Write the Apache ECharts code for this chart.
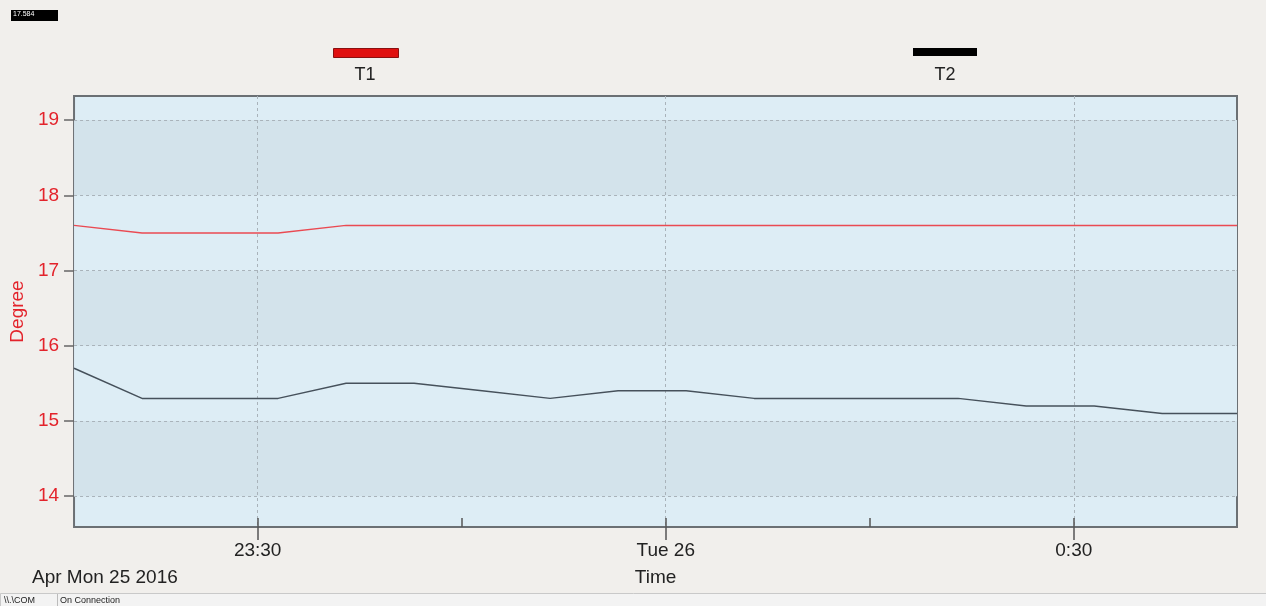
<!DOCTYPE html>
<html>
<head>
<meta charset="utf-8">
<script src="https://cdn.jsdelivr.net/npm/echarts@6/dist/echarts.min.js"></script>
<style>
  html, body { margin: 0; padding: 0; background: #f1efec; }
  #chart { width: 1266px; height: 606px; }
</style>
</head>
<body>
<div id="chart"></div>
<script>
// Logged readings, one every five minutes (last entry is the reading at the window's right edge)
const sampleTimes = ['23:16:30', '23:21:30', '23:26:30', '23:31:30', '23:36:30', '23:41:30',
  '23:46:30', '23:51:30', '23:56:30', '0:01:30', '0:06:30', '0:11:30', '0:16:30',
  '0:21:30', '0:26:30', '0:31:30', '0:36:30', '0:41:30', '0:42:00'];
const t1Values = [17.6, 17.5, 17.5, 17.5, 17.6, 17.6, 17.6, 17.6, 17.6, 17.6, 17.6, 17.6, 17.6,
  17.6, 17.6, 17.6, 17.6, 17.6, 17.6];
const t2Values = [15.7, 15.3, 15.3, 15.3, 15.5, 15.5, 15.4, 15.3, 15.4, 15.4, 15.3, 15.3, 15.3,
  15.3, 15.2, 15.2, 15.1, 15.1, 15.1];

// Visible time window
const windowStart = '23:16:30';
const windowEnd = '0:42:00';

// Time axis ticks
const majorTickTimes = ['23:30', '0:00', '0:30'];
const majorTickLabels = ['23:30', 'Tue 26', '0:30'];
const minorTickTimes = ['23:30', '23:45', '0:00', '0:15', '0:30'];

// Value axis ticks
const degreeTicks = [14, 15, 16, 17, 18, 19];
const degreeMin = 13.59;
const degreeMax = 19.32;

const seriesNames = ['T1', 'T2'];
const dateCaption = 'Apr Mon 25 2016';
const currentReading = '17.584';

// Clock time -> timestamp; times after midnight fall on Apr 26
function toTs(s) {
  const p = s.split(':').map(Number);
  const day = p[0] < 12 ? 26 : 25;
  return Date.UTC(2016, 3, day, p[0], p[1], p[2] || 0);
}

const t1Data = sampleTimes.map((t, i) => [toTs(t), t1Values[i]]);
const t2Data = sampleTimes.map((t, i) => [toTs(t), t2Values[i]]);
const majorTs = majorTickTimes.map(toTs);
const minorTs = minorTickTimes.map(toTs);

const FONT = '"Liberation Sans", Arial, sans-serif';
const RED = '#e3232b';
const LIGHT_BAND = '#ddedf5';
const DARK_BAND = '#d3e3eb';

const chart = echarts.init(document.getElementById('chart'), null, { renderer: 'canvas' });

chart.setOption({
  backgroundColor: '#f1efec',
  animation: false,
  grid: {
    left: 74, right: 29, top: 96, bottom: 79,
    show: true,
    backgroundColor: LIGHT_BAND,
    borderColor: '#6b7074',
    borderWidth: 2
  },
  legend: [
    {
      left: 333, top: 48, padding: 0, data: [seriesNames[0]],
      icon: 'rect', itemWidth: 65, itemHeight: 9,
      formatter: () => '', selectedMode: false,
      itemStyle: { borderColor: '#8a1010', borderWidth: 1 }
    },
    {
      left: 913, top: 48, padding: 0, data: [seriesNames[1]],
      icon: 'rect', itemWidth: 64, itemHeight: 8,
      formatter: () => '', selectedMode: false
    }
  ],
  xAxis: [
    {
      type: 'value',
      min: toTs(windowStart),
      max: toTs(windowEnd),
      name: 'Time',
      nameLocation: 'middle',
      nameGap: 41,
      nameTextStyle: { fontFamily: FONT, fontSize: 19, color: '#222' },
      axisLine: { show: false },
      axisTick: {
        show: true, inside: false, length: 13,
        customValues: majorTs,
        lineStyle: { color: '#555', width: 1.5 }
      },
      axisLabel: {
        customValues: majorTs,
        margin: 14,
        fontFamily: FONT, fontSize: 19, color: '#222',
        formatter: v => {
          const i = majorTs.indexOf(v);
          return i >= 0 ? majorTickLabels[i] : '';
        }
      },
      splitLine: {
        show: true,
        lineStyle: { color: '#a9b3ba', type: [3, 3], width: 1 }
      }
    },
    {
      type: 'value',
      position: 'bottom',
      min: toTs(windowStart),
      max: toTs(windowEnd),
      axisLine: { show: false },
      axisTick: {
        show: true, inside: true, length: 9,
        customValues: minorTs,
        lineStyle: { color: '#555', width: 1.5 }
      },
      axisLabel: { show: false },
      splitLine: { show: false }
    }
  ],
  yAxis: {
    type: 'value',
    min: degreeMin,
    max: degreeMax,
    name: 'Degree',
    nameLocation: 'middle',
    nameRotate: 90,
    nameGap: 47,
    nameTextStyle: { fontFamily: FONT, fontSize: 19, color: RED },
    axisLine: { show: false },
    axisTick: {
      show: true, inside: false, length: 10,
      customValues: degreeTicks,
      lineStyle: { color: '#666', width: 1.5 }
    },
    axisLabel: {
      customValues: degreeTicks,
      margin: 15,
      fontFamily: FONT, fontSize: 19, color: RED
    },
    splitLine: {
      show: true,
      lineStyle: { color: '#a9b3ba', type: [3, 3], width: 1 }
    },
    splitArea: {
      show: true,
      areaStyle: { color: [DARK_BAND, LIGHT_BAND] }
    }
  },
  series: [
    {
      name: seriesNames[0], type: 'line', data: t1Data,
      xAxisIndex: 0, symbol: 'none',
      color: '#e01010',
      lineStyle: { color: '#ea4a52', width: 1.5 }
    },
    {
      name: seriesNames[1], type: 'line', data: t2Data,
      xAxisIndex: 0, symbol: 'none',
      color: '#000000',
      lineStyle: { color: '#46515b', width: 1.5 }
    }
  ],
  graphic: [
    { type: 'text', x: 365, y: 75,
      style: { text: seriesNames[0], fontFamily: FONT, fontSize: 18, fill: '#222',
        align: 'center', verticalAlign: 'middle' } },
    { type: 'text', x: 945, y: 75,
      style: { text: seriesNames[1], fontFamily: FONT, fontSize: 18, fill: '#222',
        align: 'center', verticalAlign: 'middle' } },
    { type: 'text', x: 32, y: 578,
      style: { text: dateCaption, fontFamily: FONT, fontSize: 19, fill: '#222',
        align: 'left', verticalAlign: 'middle' } },
    // current reading badge
    { type: 'rect', left: 11, top: 10, shape: { width: 47, height: 11 }, style: { fill: '#000' } },
    { type: 'text', left: 13, top: 11,
      style: { text: currentReading, fontFamily: FONT, fontSize: 7, fill: '#fff' } },
    // status bar
    { type: 'rect', left: 0, top: 593, shape: { width: 1266, height: 13 },
      style: { fill: '#f3f3f3', stroke: '#c9c9c9', lineWidth: 1 } },
    { type: 'text', left: 4, top: 596,
      style: { text: '\\\\.\\COM', fontFamily: FONT, fontSize: 9, fill: '#222' } },
    { type: 'line', shape: { x1: 57.5, y1: 594, x2: 57.5, y2: 606 }, style: { stroke: '#bbb' } },
    { type: 'text', left: 60, top: 596,
      style: { text: 'On Connection', fontFamily: FONT, fontSize: 9, fill: '#222' } }
  ]
});
</script>
</body>
</html>
